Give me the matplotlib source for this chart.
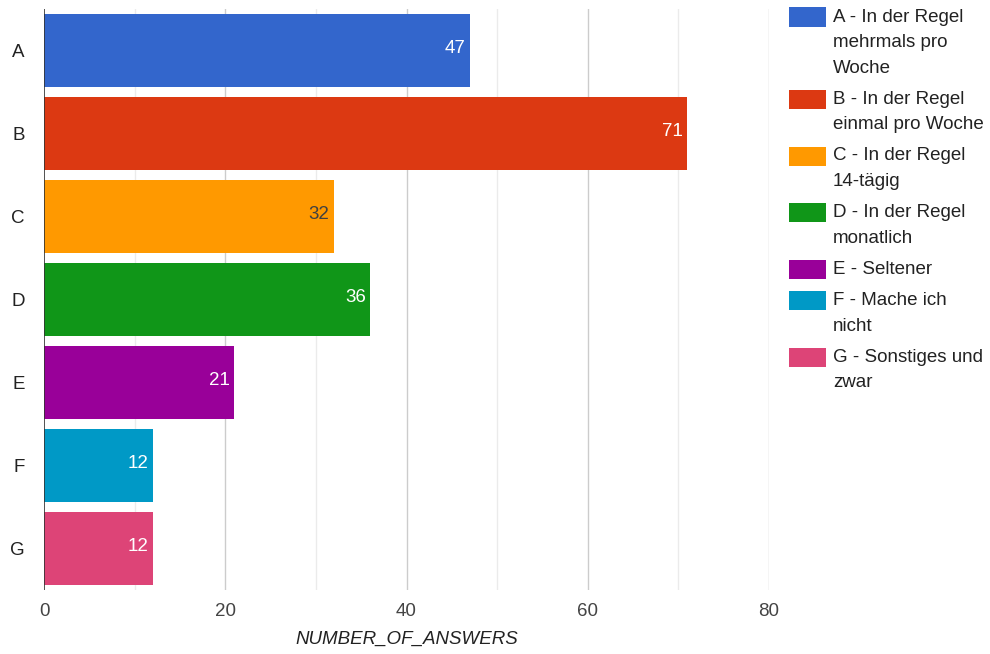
import matplotlib
matplotlib.use("Agg")
import matplotlib.pyplot as plt
from matplotlib.patches import Rectangle

plt.rcParams['font.family'] = ['Liberation Sans', 'DejaVu Sans']

# Daten
categories = ['A', 'B', 'C', 'D', 'E', 'F', 'G']
values = [47, 71, 32, 36, 21, 12, 12]
colors = ['#3366cc', '#dc3912', '#ff9900', '#109618', '#990099', '#0099c6', '#dd4477']
label_colors = ['white', 'white', '#404040', 'white', 'white', 'white', 'white']
legend_labels = [
    ['A - In der Regel', 'mehrmals pro', 'Woche'],
    ['B - In der Regel', 'einmal pro Woche'],
    ['C - In der Regel', '14-tägig'],
    ['D - In der Regel', 'monatlich'],
    ['E - Seltener'],
    ['F - Mache ich', 'nicht'],
    ['G - Sonstiges und', 'zwar'],
]
x_ticks = [0, 20, 40, 60, 80]

W, H = 990, 654
fig = plt.figure(figsize=(W / 100, H / 100), dpi=100)
ax = fig.add_axes([44 / W, 1 - 590 / H, (769 - 44) / W, (590 - 9) / H])

y = list(range(len(categories)))
ax.barh(y, values, height=0.89, color=colors, linewidth=0, zorder=3)

# Wertebeschriftungen in den Balken
for yi, v, c in zip(y, values, label_colors):
    ax.text(v - 0.5, yi - 0.02, str(v), ha='right', va='center', color=c, fontsize=13.5, zorder=4)

ax.set_xlim(0, 80)
ax.set_ylim(len(categories) - 0.5, -0.5)

# Gitterlinien
for gx in range(10, 80, 20):
    ax.axvline(gx, color='#ebebeb', linewidth=1, zorder=1)
for gx in x_ticks[1:]:
    ax.axvline(gx, color='#cccccc', linewidth=1, zorder=1)
ax.axvline(0, color='#333333', linewidth=1.2, zorder=5)

for s in ax.spines.values():
    s.set_visible(False)

ax.set_xticks(x_ticks)
ax.set_yticks(y)
ax.set_yticklabels(categories)
ax.tick_params(axis='both', length=0, labelsize=13.5, colors='#444444')
ax.tick_params(axis='x', pad=9)
ax.tick_params(axis='y', pad=14, labelcolor='#222222')
ax.set_xlabel('NUMBER_OF_ANSWERS', fontsize=13.5, style='italic', color='#222222', labelpad=8)

# Legende manuell zeichnen
line_h = 25.6
gap = 5.5
ytop = 17
for labels, c in zip(legend_labels, colors):
    fig.patches.append(Rectangle((789 / W, 1 - (ytop + 9.5) / H), 37 / W, 19 / H,
                                 transform=fig.transFigure, facecolor=c, edgecolor='none'))
    for i, t in enumerate(labels):
        fig.text(833 / W, 1 - (ytop + i * line_h) / H, t, ha='left', va='center',
                 fontsize=13.5, color='#222222')
    ytop += len(labels) * line_h + gap

fig.savefig('out.png', dpi=100)
